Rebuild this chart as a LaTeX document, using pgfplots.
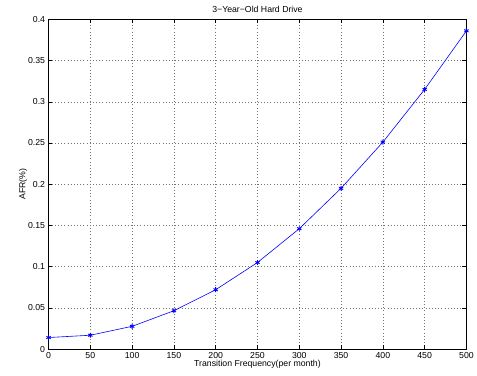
\documentclass[border=0pt]{standalone}
\usepackage{pgfplots}
\pgfplotsset{compat=1.18}
\usepackage{fontspec}
\setmainfont{Liberation Sans}
\begin{document}
\begin{tikzpicture}
\begin{axis}[
  scale only axis,
  width=422pt, height=333pt,
  xmin=0, xmax=500, ymin=0, ymax=0.4,
  xtick={0,50,...,500},
  ytick={0,0.05,...,0.4},
  yticklabels={0,0.05,0.1,0.15,0.2,0.25,0.3,0.35,0.4},
  /pgf/number format/assume math mode=true,
  tick label style={font=\fontsize{8.8}{10}\selectfont},
  label style={font=\fontsize{8.8}{10}\selectfont},
  title style={font=\fontsize{8.8}{10}\selectfont, yshift=-3pt},
  title={3−Year−Old Hard Drive},
  xlabel={Transition Frequency(per month)},
  ylabel={AFR(\%)},
  xlabel style={yshift=5pt},
  ylabel style={yshift=-6pt},
  grid=major,
  major grid style={dash pattern=on 0.6pt off 2.6pt, black!55, line width=0.5pt},
  tick align=inside,
  major tick length=4pt,
  axis line style={black, line width=0.8pt},
  xtick pos=both, ytick pos=both,
  tick style={black, line width=0.5pt},
  scaled y ticks=false,
]
\addplot[blue, line width=0.6pt, mark=asterisk, mark size=2.5pt, mark options={line width=0.9pt}] coordinates {
(0,0.014) (50,0.0168) (100,0.0276) (150,0.0465) (200,0.072) (250,0.105)
(300,0.146) (350,0.195) (400,0.251) (450,0.315) (500,0.386)
};
\end{axis}
\path[use as bounding box] ([xshift=-49pt,yshift=-26.3pt]current axis.south west) rectangle ([xshift=6pt,yshift=19.5pt]current axis.north east);
\end{tikzpicture}
\end{document}
